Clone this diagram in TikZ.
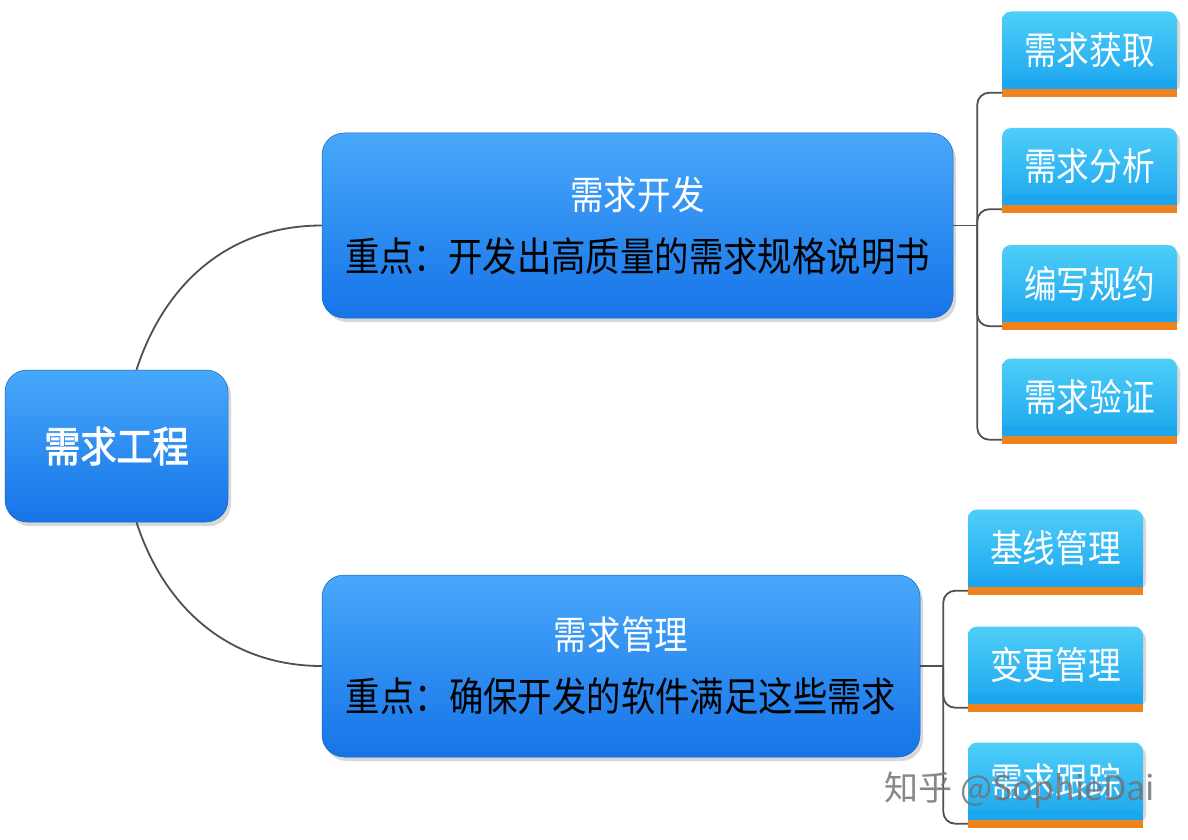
\documentclass[tikz,border=0pt]{standalone}
\usepackage{fontspec}
\setmainfont{Noto Sans CJK SC}
\newfontfamily\cjk[FakeStretch=0.86]{Noto Sans CJK SC}
\newfontfamily\cjkb[FakeStretch=0.86,FakeBold=2]{Noto Sans CJK SC}
\usetikzlibrary{shadows,calc}
\definecolor{bigtop}{RGB}{72,168,250}
\definecolor{bigbot}{RGB}{22,116,232}
\definecolor{leaftop}{RGB}{78,206,248}
\definecolor{leafbot}{RGB}{28,166,238}
\definecolor{barc}{RGB}{238,130,30}
\definecolor{linkc}{RGB}{80,80,80}
\begin{document}
\begin{tikzpicture}[x=1pt,y=1pt,
  bignode/.style={rounded corners=22pt, top color=bigtop, bottom color=bigbot,
    draw=bigbot!85!black, line width=0.5pt, inner sep=0pt, align=center,
    drop shadow={opacity=0.3, shadow xshift=3pt, shadow yshift=-4pt}},
  leaf/.style={rounded corners=9pt, top color=leaftop, bottom color=leafbot,
    minimum width=175pt, minimum height=77pt, inner sep=0pt, text=white,
    font=\cjk\fontsize{38}{40}\selectfont,
    drop shadow={opacity=0.3, shadow xshift=3pt, shadow yshift=-4pt}},
  link/.style={draw=linkc, line width=1.8pt},
  bracket/.style={link, rounded corners=12pt},
  bartop/.style={fill=leafbot},
  bar/.style={fill=barc}]
\useasboundingbox[fill=white] (0,0) rectangle (1188,-840);

% root
\node[bignode, minimum width=223pt, minimum height=152pt, text=white,
  font=\cjkb\fontsize{42}{48}\selectfont] (root) at (116.5,-446) {需求工程};

% main branches
\node[bignode, minimum width=631pt, minimum height=185pt,
  font=\cjk\fontsize{40}{62}\selectfont] (dev) at (637.5,-225.5)
  {{\fontsize{39}{62}\selectfont\color{white}需求开发}\\重点：开发出高质量的需求规格说明书};
\node[bignode, minimum width=598pt, minimum height=182pt,
  font=\cjk\fontsize{40}{62}\selectfont] (mgmt) at (621,-666)
  {{\fontsize{39}{62}\selectfont\color{white}需求管理}\\重点：确保开发的软件满足这些需求};

% leaves
\node[leaf] (l1) at (1089.5,-50) {需求获取};
\node[leaf] (l2) at (1089.5,-166.5) {需求分析};
\node[leaf] (l3) at (1089.5,-283.5) {编写规约};
\node[leaf] (l4) at (1089.5,-397) {需求验证};
\node[leaf] (m1) at (1055.5,-548) {基线管理};
\node[leaf] (m2) at (1055.5,-665) {变更管理};
\node[leaf] (m3) at (1055.5,-781) {需求跟踪};

\foreach \l in {l1,l2,l3,l4,m1,m2,m3}{
  \fill[bartop] ([yshift=10pt]\l.south west) rectangle (\l.south east);
  \fill[bar] (\l.south west) rectangle ([yshift=-8pt]\l.south east);
}

% connectors
\draw[link] ([xshift=20pt]root.north) to[out=72,in=180] (dev.west);
\draw[link] ([xshift=20pt]root.south) to[out=-72,in=180] (mgmt.west);

\coordinate (j1) at ($(dev.east)+(24,0)$);
\coordinate (j2) at ($(mgmt.east)+(23,0)$);
\draw[link] (dev.east) -- (j1);
\draw[link] (mgmt.east) -- (j2);
\foreach \l in {l1,l2,l3,l4}
  \draw[bracket] (j1) |- ([yshift=-4pt]\l.south west);
\foreach \l in {m1,m2,m3}
  \draw[bracket] (j2) |- ([yshift=-4pt]\l.south west);

% watermark
\node[text=black!55, opacity=0.85, font=\fontsize{34}{36}\selectfont] (wm) at (1020,-790) {知乎 @SophieDai};
\end{tikzpicture}
\end{document}
